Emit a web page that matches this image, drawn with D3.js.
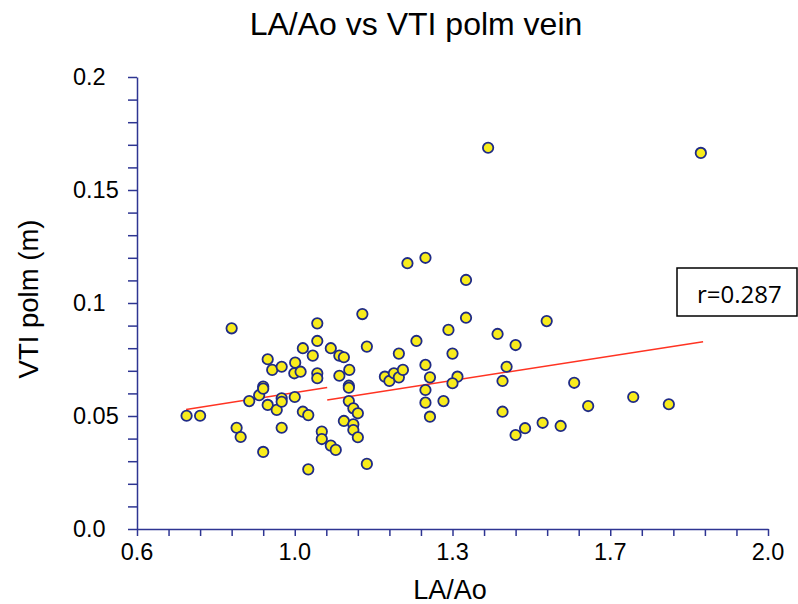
<!DOCTYPE html>
<html>
<head>
<meta charset="utf-8">
<script src="https://cdn.jsdelivr.net/npm/d3@7"></script>
<style>
  body { margin: 0; background: #fff; }
  svg text { font-family: "Liberation Sans", Arial, sans-serif; fill: #000; }
</style>
</head>
<body>
<div id="chart"></div>
<script>
// LA/Ao (x) and VTI polm vein (y, m)
const laAo = [0.710, 0.740, 0.810, 0.821, 0.830, 0.849, 0.871, 0.880, 0.880, 0.880,
  0.890, 0.890, 0.900, 0.910, 0.921, 0.921, 0.921, 0.921, 0.950, 0.951,
  0.949, 0.963, 0.968, 0.968, 0.980, 0.980, 0.990, 1.000, 1.000, 1.000,
  1.000, 1.010, 1.010, 1.030, 1.030, 1.041, 1.049, 1.049, 1.059, 1.059,
  1.071, 1.070, 1.070, 1.070, 1.080, 1.090, 1.080, 1.080, 1.090, 1.100,
  1.110, 1.110, 1.150, 1.160, 1.170, 1.181, 1.181, 1.190, 1.200, 1.220,
  1.240, 1.240, 1.250, 1.240, 1.240, 1.250, 1.280, 1.291, 1.300, 1.311,
  1.300, 1.330, 1.330, 1.379, 1.400, 1.411, 1.411, 1.420, 1.440, 1.440,
  1.461, 1.500, 1.509, 1.540, 1.570, 1.601, 1.701, 1.780, 1.851];
const vti = [0.0501, 0.0501, 0.0888, 0.0448, 0.0407, 0.0566, 0.0592, 0.0630, 0.0621, 0.0341,
  0.0751, 0.0549, 0.0704, 0.0527, 0.0718, 0.0578, 0.0563, 0.0448, 0.0584, 0.0736,
  0.0689, 0.0696, 0.0800, 0.0519, 0.0504, 0.0264, 0.0767, 0.0910, 0.0832, 0.0689,
  0.0667, 0.0431, 0.0398, 0.0800, 0.0369, 0.0350, 0.0767, 0.0678, 0.0760, 0.0478,
  0.0704, 0.0634, 0.0625, 0.0566, 0.0534, 0.0512, 0.0463, 0.0438, 0.0406, 0.0951,
  0.0807, 0.0288, 0.0674, 0.0655, 0.0689, 0.0671, 0.0776, 0.0704, 0.1176, 0.0832,
  0.1200, 0.0726, 0.0671, 0.0615, 0.0559, 0.0497, 0.0566, 0.0881, 0.0776, 0.0674,
  0.0645, 0.1102, 0.0935, 0.1687, 0.0863, 0.0655, 0.0519, 0.0718, 0.0814, 0.0416,
  0.0446, 0.0470, 0.0920, 0.0456, 0.0647, 0.0544, 0.0584, 0.0552, 0.1664];

// fit line, drawn in two pieces as in the picture
const fitLines = [
  [[0.709, 0.0529], [1.022, 0.0626]],
  [[1.022, 0.0571], [1.856, 0.0829]]
];
const rLabel = "r=0.287";

const xTickVals = [0.6, 0.95, 1.3, 1.65, 2.0];
const xTickLabels = ["0.6", "1.0", "1.3", "1.7", "2.0"];
const yTickVals = [0, 0.05, 0.1, 0.15, 0.2];
const yTickLabels = ["0.0", "0.05", "0.1", "0.15", "0.2"];

const width = 798, height = 604;
const axisColor = "#2e3592";

const svg = d3.select("#chart").append("svg")
  .attr("width", width)
  .attr("height", height);

const x = d3.scaleLinear().domain([0.6, 2.0]).range([137, 768]);
const y = d3.scaleLinear().domain([0, 0.2]).range([529, 77]);

// title
svg.append("text")
  .attr("x", 416).attr("y", 35)
  .attr("text-anchor", "middle")
  .style("font-size", "32px")
  .text("LA/Ao vs VTI polm vein");

// y axis, minor ticks every 0.01
const yAxis = svg.append("g")
  .attr("transform", `translate(${x(0.6)},0)`)
  .call(d3.axisLeft(y)
    .tickValues(d3.range(0, 0.2001, 0.01))
    .tickSize(9).tickSizeOuter(0)
    .tickFormat(""));

// x axis, minor ticks every 0.07
const xAxis = svg.append("g")
  .attr("transform", `translate(0,${y(0)})`)
  .call(d3.axisBottom(x)
    .tickValues(d3.range(0, 21).map(i => 0.6 + i * 0.07))
    .tickSize(7).tickSizeOuter(0)
    .tickFormat(""));

[yAxis, xAxis].forEach(g => {
  g.selectAll("path, line").attr("stroke", axisColor).attr("stroke-width", 1.5);
});

svg.selectAll(".ylab")
  .data(yTickVals)
  .enter().append("text")
  .attr("class", "ylab")
  .attr("x", 73)
  .attr("y", d => y(d))
  .attr("dy", "0.36em")
  .style("font-size", "23.5px")
  .text((d, i) => yTickLabels[i]);

svg.selectAll(".xlab")
  .data(xTickVals)
  .enter().append("text")
  .attr("class", "xlab")
  .attr("x", d => x(d))
  .attr("y", 560)
  .attr("text-anchor", "middle")
  .style("font-size", "23.5px")
  .text((d, i) => xTickLabels[i]);

// axis titles
svg.append("text")
  .attr("x", 450).attr("y", 599)
  .attr("text-anchor", "middle")
  .style("font-size", "27px")
  .text("LA/Ao");

svg.append("text")
  .attr("transform", "translate(38,299) rotate(-90)")
  .attr("text-anchor", "middle")
  .style("font-size", "27.5px")
  .text("VTI polm (m)");

// regression pieces
const line = d3.line().x(d => x(d[0])).y(d => y(d[1]));
svg.selectAll(".fit")
  .data(fitLines)
  .enter().append("path")
  .attr("class", "fit")
  .attr("d", line)
  .attr("fill", "none")
  .attr("stroke", "#ff3322")
  .attr("stroke-width", 1.5);

// points
svg.selectAll("circle")
  .data(laAo.map((d, i) => [d, vti[i]]))
  .enter().append("circle")
  .attr("cx", d => x(d[0]))
  .attr("cy", d => y(d[1]))
  .attr("r", 5.2)
  .attr("fill", "#f8ec1c")
  .attr("stroke", "#1f2b86")
  .attr("stroke-width", 1.8);

// r box
svg.append("rect")
  .attr("x", 677).attr("y", 268)
  .attr("width", 120).attr("height", 48)
  .attr("fill", "#fff")
  .attr("stroke", "#000")
  .attr("stroke-width", 1.5);

svg.append("text")
  .attr("x", 697).attr("y", 303)
  .style("font-family", "'Open Sans', sans-serif")
  .style("font-size", "24px")
  .text(rLabel);
</script>
</body>
</html>
